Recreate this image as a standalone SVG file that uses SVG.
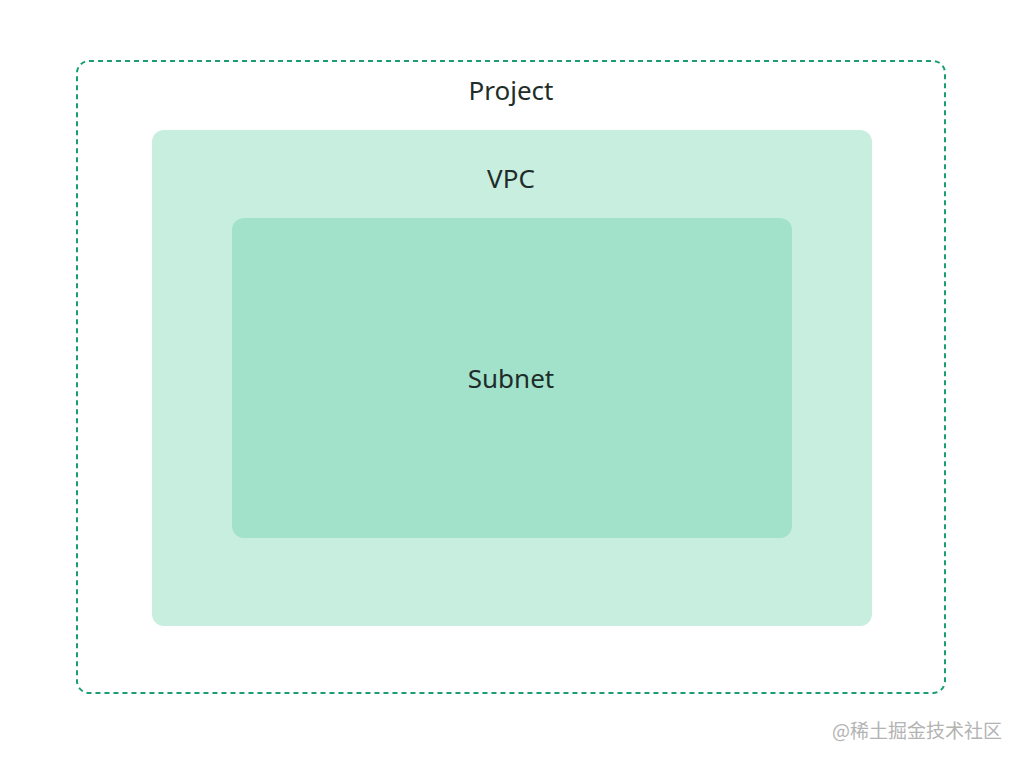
<svg xmlns="http://www.w3.org/2000/svg" width="1024" height="762" viewBox="0 0 1024 762">
<style>
.lbl{font-family:"Noto Sans","Liberation Sans",sans-serif;font-size:26px;fill:#1f2d2a;text-anchor:middle}
</style>
<rect width="1024" height="762" fill="#fff"/>
<g id="project"><rect x="77" y="61" width="868" height="632" rx="12" fill="none" stroke="#1a9e6e" stroke-width="2" stroke-dasharray="5,4"/>
<text class="lbl" x="511" y="100">Project</text></g>
<g id="vpc"><rect x="152" y="130" width="720" height="496" rx="12" fill="#c8eee0"/>
<text class="lbl" x="511" y="188">VPC</text></g>
<g id="subnet"><rect x="232" y="218" width="560" height="320" rx="12" fill="#a2e2cb"/>
<text class="lbl" x="511" y="388">Subnet</text></g>
<g id="connectors"/>
<text x="1002" y="738" font-family="Noto Sans CJK SC,sans-serif" font-size="19" fill="#b3b3b3" text-anchor="end">@稀土掘金技术社区</text>
</svg>
